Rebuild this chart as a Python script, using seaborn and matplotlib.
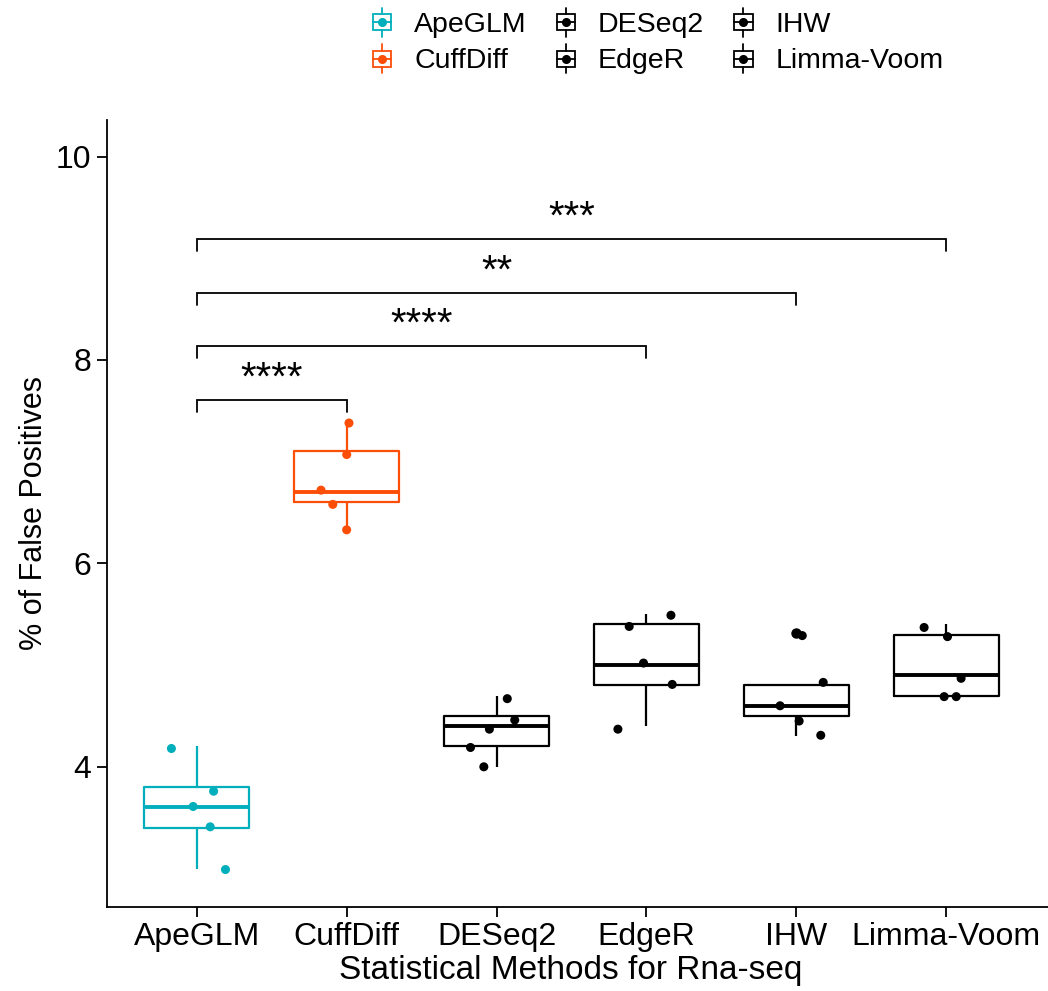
import numpy as np
import pandas as pd
import matplotlib
matplotlib.use("Agg")
import matplotlib.pyplot as plt
from matplotlib.lines import Line2D
from matplotlib.patches import Rectangle
from matplotlib.legend_handler import HandlerBase
import seaborn as sns

# ---------------- data ----------------
methods = ["ApeGLM", "CuffDiff", "DESeq2", "EdgeR", "IHW", "Limma-Voom"]
colors = ["#00AFBB", "#FC4E07", "#000000", "#000000", "#000000", "#000000"]

# values summarised by the boxes
apeglm_box = [3.0, 3.4, 3.6, 3.8, 4.2]
cuffdiff_box = [6.3, 6.6, 6.7, 7.1, 7.4]
deseq2_box = [4.0, 4.2, 4.4, 4.5, 4.7]
edger_box = [4.4, 4.8, 5.0, 5.4, 5.5]
ihw_box = [4.3, 4.5, 4.6, 4.8, 5.32]
limma_box = [4.7, 4.7, 4.9, 5.3, 5.4]

# jittered points as shown
apeglm_pts = [4.18, 3.76, 3.61, 3.41, 2.99]
cuffdiff_pts = [7.38, 7.07, 6.72, 6.58, 6.33]
deseq2_pts = [4.67, 4.46, 4.37, 4.19, 4.00]
edger_pts = [5.49, 5.38, 5.02, 4.81, 4.37]
ihw_pts = [5.29, 4.83, 4.60, 4.45, 4.31]
limma_pts = [5.37, 5.28, 4.87, 4.69, 4.69]

# significance comparisons
comp_group1 = ["ApeGLM", "ApeGLM", "ApeGLM", "ApeGLM"]
comp_group2 = ["CuffDiff", "EdgeR", "IHW", "Limma-Voom"]
comp_labels = ["****", "****", "**", "***"]
comp_y = [7.61, 8.14, 8.66, 9.19]

yticks = [4, 6, 8, 10]

# ---------------- frames ----------------
box_lists = [apeglm_box, cuffdiff_box, deseq2_box, edger_box, ihw_box, limma_box]
pt_lists = [apeglm_pts, cuffdiff_pts, deseq2_pts, edger_pts, ihw_pts, limma_pts]
box_df = pd.DataFrame([(m, v) for m, vals in zip(methods, box_lists) for v in vals],
                      columns=["method", "value"])
pt_df = pd.DataFrame([(m, v) for m, vals in zip(methods, pt_lists) for v in vals],
                     columns=["method", "value"])
pal = dict(zip(methods, colors))

# ---------------- style ----------------
sns.set_style("ticks")
plt.rcParams["font.family"] = ["Liberation Sans", "DejaVu Sans"]
plt.rcParams["text.color"] = "black"
plt.rcParams["axes.labelcolor"] = "black"

fig = plt.figure(figsize=(10.48, 9.91), dpi=100)
ax = fig.add_axes([0.102, 0.085, 0.898, 0.794])

sns.boxplot(data=box_df, x="method", y="value", hue="method", order=methods,
            hue_order=methods, palette=pal, fill=False, width=0.7, linewidth=1.6,
            whis=1.5, legend=False, ax=ax,
            medianprops=dict(linewidth=2.8),
            capprops=dict(visible=False),
            flierprops=dict(marker="o", markersize=6.5))
for ln in ax.lines:
    if ln.get_marker() == "o":
        ln.set_markerfacecolor(ln.get_markeredgecolor())

np.random.seed(7)
sns.stripplot(data=pt_df, x="method", y="value", hue="method", order=methods,
              hue_order=methods, palette=pal, jitter=0.2, size=6.5, linewidth=0,
              legend=False, ax=ax, zorder=5)

# significance brackets
tip = 0.12
for g1, g2, lab, yy in zip(comp_group1, comp_group2, comp_labels, comp_y):
    x1, x2 = methods.index(g1), methods.index(g2)
    ax.plot([x1, x1, x2, x2], [yy - tip, yy, yy, yy - tip], color="black", lw=1.3,
            solid_joinstyle="miter")
    ax.text((x1 + x2) / 2, yy + 0.02, lab, ha="center", va="bottom", fontsize=29,
            color="black")

ax.set_xlim(-0.6, 5.68)
ax.set_ylim(2.624, 10.36)
ax.set_yticks(yticks)
ax.set_yticklabels([str(t) for t in yticks])
ax.tick_params(axis="both", labelsize=23, length=7, width=1.3, color="black",
               labelcolor="black", pad=4)
ax.set_xlabel("Statistical Methods for Rna-seq", fontsize=24, color="black")
ax.xaxis.set_label_coords(0.493, -0.061)
ax.set_ylabel("% of False Positives", fontsize=22, labelpad=5, color="black")
for side in ["top", "right"]:
    ax.spines[side].set_visible(False)
for side in ["left", "bottom"]:
    ax.spines[side].set_linewidth(1.3)
    ax.spines[side].set_color("black")


# ---------------- legend ----------------
class BoxHandler(HandlerBase):
    def create_artists(self, legend, orig_handle, xdescent, ydescent, width,
                       height, fontsize, trans):
        c = orig_handle.get_color()
        x0, y0 = -xdescent, -ydescent
        cx = x0 + width / 2
        cy = y0 + height / 2
        bw = width
        bh = height * 0.55
        rect = Rectangle((cx - bw / 2, cy - bh / 2), bw, bh, fill=False,
                         edgecolor=c, lw=1.3, transform=trans)
        med = Line2D([cx - bw / 2, cx + bw / 2], [cy, cy], color=c, lw=1.3,
                     transform=trans)
        wu = Line2D([cx, cx], [cy + bh / 2, y0 + height], color=c, lw=1.3,
                    transform=trans)
        wd = Line2D([cx, cx], [y0, cy - bh / 2], color=c, lw=1.3, transform=trans)
        dot = Line2D([cx], [cy], marker="o", markersize=5.5, color=c, lw=0,
                     transform=trans)
        return [rect, med, wu, wd, dot]


handles = [Line2D([], [], color=c, marker="o", label=m) for m, c in zip(methods, colors)]
leg = fig.legend(handles=handles, loc="upper center", bbox_to_anchor=(0.628, 1.018),
                 ncol=3, frameon=False, fontsize=20.5, handlelength=0.65,
                 handleheight=1.2, handletextpad=0.8, columnspacing=1.05,
                 labelspacing=0.22, handler_map={Line2D: BoxHandler()})
for t in leg.get_texts():
    t.set_color("black")

fig.savefig("out.png", dpi=100)
